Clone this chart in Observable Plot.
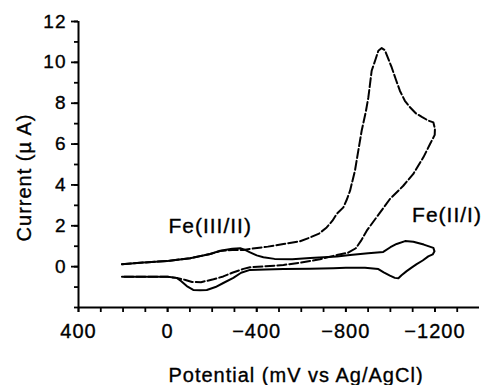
<!DOCTYPE html>
<html><head><meta charset="utf-8">
<script src="https://cdn.jsdelivr.net/npm/d3@7"></script>
<script src="https://cdn.jsdelivr.net/npm/@observablehq/plot@0.6"></script>
<style>
html,body{margin:0;padding:0;background:#fff;}
#chart{width:489px;height:385px;}
#chart svg text{stroke:#000;stroke-width:0.35px;}
</style></head><body><div id="chart"></div>
<script>
// Solid CV (forward scan 200 → -1200 mV, then return)
const solidPotential = [205,108,0,-101,-191,-236,-290,-326,-345,-370,-400,-430,-480,-560,-640,-700,-760,-819,-900,-968,-1000,-1028,-1066,-1103,-1150,-1193,-1198,-1190,-1170,-1145,-1118,-1095,-1073,-1050,-1036,-1020,-998,-970,-946,-886,-800,-744,-640,-520,-440,-370,-330,-295,-250,-215,-176,-146,-115,-86,-60,-41,0,100,205];
const solidCurrent = [0.12,0.2,0.28,0.41,0.62,0.78,0.88,0.9,0.83,0.7,0.55,0.46,0.38,0.36,0.42,0.46,0.5,0.57,0.65,0.72,0.95,1.11,1.25,1.22,1.08,0.92,0.75,0.6,0.5,0.3,0.12,-0.05,-0.22,-0.42,-0.57,-0.55,-0.44,-0.28,-0.12,-0.05,-0.06,-0.08,-0.1,-0.12,-0.14,-0.16,-0.3,-0.55,-0.8,-1.0,-1.14,-1.15,-1.14,-0.95,-0.7,-0.55,-0.5,-0.49,-0.49];
// Dashed CV (catalytic wave)
const dashedPotential = [205,108,0,-101,-191,-236,-290,-340,-370,-450,-520,-594,-640,-680,-714,-740,-759,-789,-805,-819,-841,-856,-871,-890,-901,-916,-935,-946,-961,-975,-984,-1006,-1025,-1043,-1065,-1088,-1115,-1141,-1170,-1193,
  -1200,-1199,-1178,-1148,-1103,-1058,-998,-940,-894,-870,-845,-810,-760,-684,-600,-520,-440,-370,-340,-290,-250,-206,-150,-110,-80,-40,0,100,205];
const dashedCurrent = [0.12,0.2,0.28,0.41,0.62,0.76,0.82,0.82,0.87,0.98,1.11,1.24,1.43,1.62,1.92,2.25,2.58,2.9,3.3,3.72,4.7,5.68,6.65,7.6,8.28,9.59,10.2,10.57,10.7,10.6,10.35,9.75,9.15,8.6,8.12,7.8,7.5,7.33,7.15,7.06,
  6.75,6.45,6.0,5.35,4.54,3.96,3.31,2.45,1.76,1.3,0.9,0.68,0.57,0.36,0.2,0.08,0.02,-0.03,-0.11,-0.3,-0.48,-0.62,-0.76,-0.75,-0.65,-0.55,-0.5,-0.49,-0.49];

const xTickLabels = [400,0,-400,-800,-1200];
const xMinorTicks = [400,300,200,100,0,-100,-200,-300,-400,-500,-600,-700,-800,-900,-1000,-1100,-1200,-1300];
const yTickLabels = [0,2,4,6,8,10,12];
const yMinorTicks = [-2,-1,0,1,2,3,4,5,6,7,8,9,10,11,12];
const annotLabels = ["Fe(III/II)","Fe(II/I)"];
const annotPotential = [-191,-1254];
const annotCurrent = [2.0,2.5];
const xTitle = "Potential (mV vs Ag/AgCl)";
const yTitle = "Current (\u00b5 A)";

const solid = solidPotential.map((x,i)=>({x, y: solidCurrent[i]}));
const dashed = dashedPotential.map((x,i)=>({x, y: dashedCurrent[i]}));
const annots = annotLabels.map((t,i)=>({t, x: annotPotential[i], y: annotCurrent[i]}));
const fmt = d3.format("d");

const chart = Plot.plot({
  width: 489, height: 385,
  marginTop: 21, marginBottom: 78, marginLeft: 78, marginRight: 10,
  style: {fontFamily: "'Liberation Sans', Arial, sans-serif", background: "#fff", color: "#000", letterSpacing: "1px"},
  x: {domain: [400, -1400], label: null},
  y: {domain: [-2, 12], label: null},
  marks: [
    Plot.axisX(xMinorTicks, {tickSize: 5, tickFormat: () => "", strokeWidth: 1.8, label: null}),
    Plot.axisX(xTickLabels, {tickSize: 5, tickPadding: 11, fontSize: 20, tickFormat: fmt, strokeWidth: 1.8, label: null}),
    Plot.axisY(yMinorTicks, {tickSize: 4, tickFormat: () => "", strokeWidth: 1.8, label: null}),
    Plot.axisY(yTickLabels, {tickSize: 7, tickPadding: 5, fontSize: 19, tickFormat: fmt, strokeWidth: 1.8, label: null}),
    Plot.ruleX([400], {strokeWidth: 2}),
    Plot.ruleY([-2], {strokeWidth: 2}),
    Plot.line(solid, {x: "x", y: "y", stroke: "#000", strokeWidth: 2}),
    Plot.line(dashed, {x: "x", y: "y", stroke: "#000", strokeWidth: 2, strokeDasharray: "9,3"}),
    Plot.text(annots, {x: "x", y: "y", text: "t", fontSize: 21, textAnchor: "middle", lineAnchor: "middle"}),
    Plot.text([yTitle], {frameAnchor: "left", rotate: -90, dx: -54, dy: 13, fontSize: 20, textAnchor: "middle", lineAnchor: "middle"}),
    Plot.text([xTitle], {frameAnchor: "bottom", dx: 17, dy: 68, fontSize: 20, textAnchor: "middle", lineAnchor: "middle", style: "letter-spacing:1.4px"})
  ]
});
document.getElementById("chart").appendChild(chart);
</script>
</body></html>
